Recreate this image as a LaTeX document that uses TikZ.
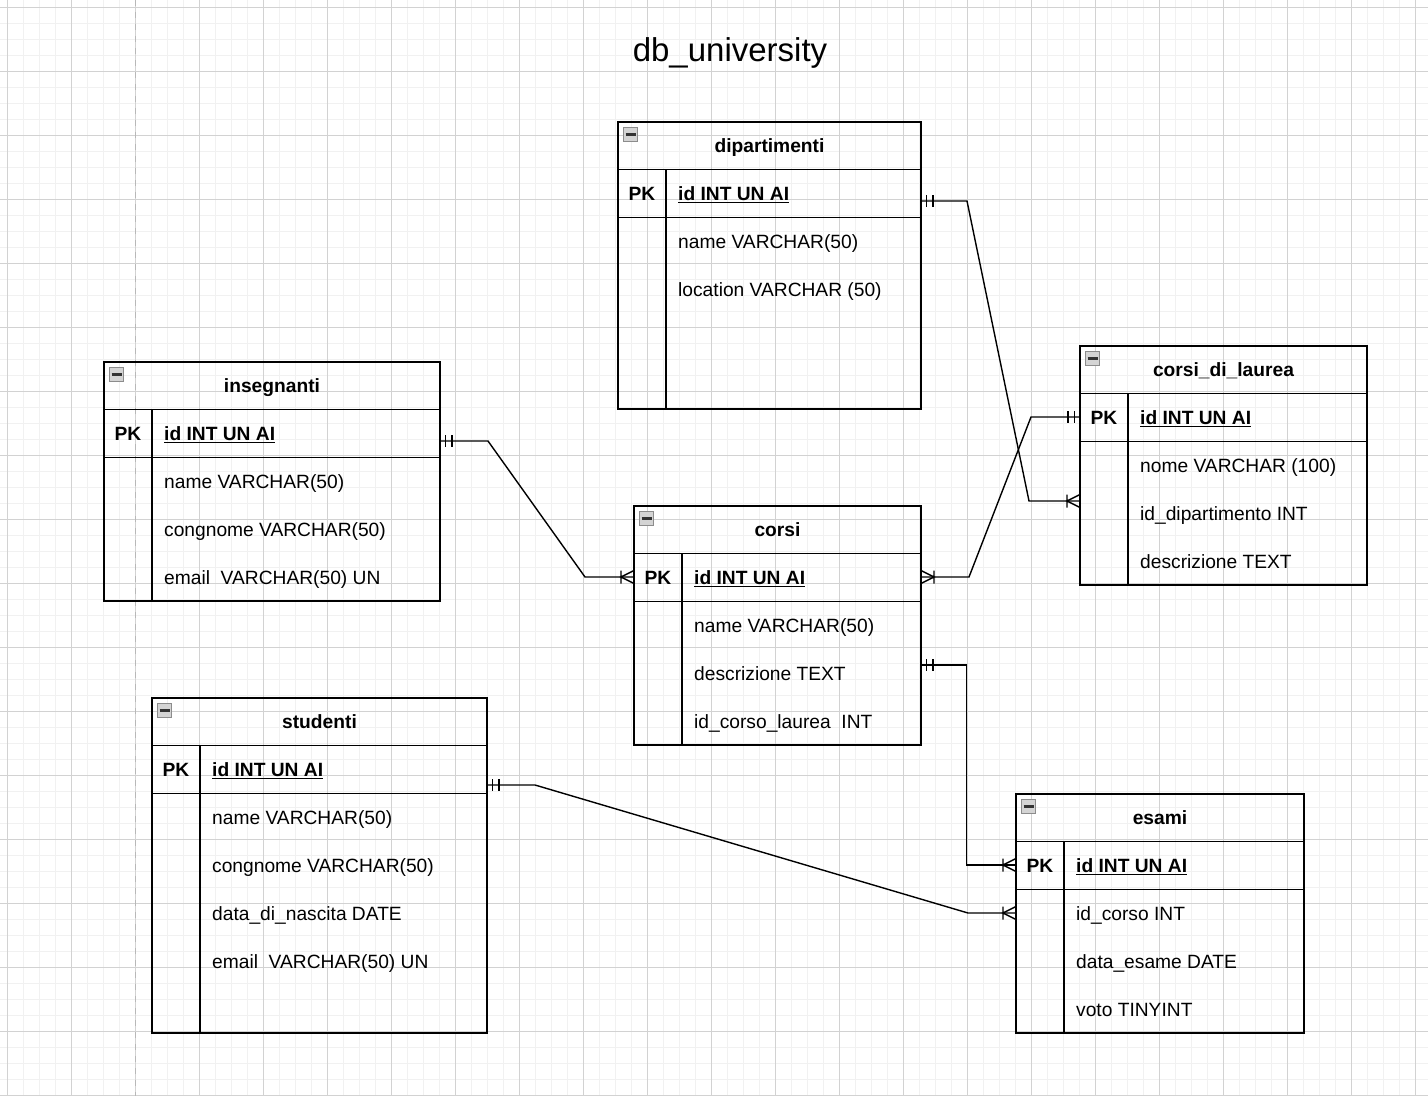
\documentclass[tikz,border=0pt]{standalone}
\usepackage{fontspec}
\setmainfont{Liberation Sans}
\usetikzlibrary{calc}
\definecolor{gridminor}{HTML}{F1F1F1}
\definecolor{gridmajor}{HTML}{D2D2D2}
\definecolor{dashgrey}{HTML}{B8B8B8}
\definecolor{iconfill}{HTML}{D4D4D4}
\definecolor{iconedge}{HTML}{8C8C8C}
\tikzset{
  tbl/.style={draw=black, line width=1.6pt, fill=none, inner sep=0pt, outer sep=0pt},
  tline/.style={draw=black, line width=1.5pt},
  rel/.style={draw=black, line width=1.4pt, line join=miter},
  txt/.style={font=\fontsize{19.2}{23}\selectfont, inner sep=0pt},
  hdr/.style={txt, font=\fontsize{19.2}{23}\selectfont\bfseries, anchor=base},
  pkl/.style={txt, font=\fontsize{19.2}{23}\selectfont\bfseries, anchor=base},
  fld/.style={txt, anchor=base west},
  iconbox/.style={draw=iconedge, fill=iconfill, line width=1pt, minimum size=13.5pt, inner sep=0pt},
}
% #1 name, #2 L, #3 T, #4 R, #5 B, #6 divider x, #7 title
\newcommand\ertable[7]{%
  \node[tbl, minimum width={#4-#2}, minimum height={#5-#3}, anchor=north west] (#1) at (#2,#3) {};
  \draw[tline] (#2,#3+47.5) -- (#4,#3+47.5);
  \draw[tline] (#2,#3+95.5) -- (#4,#3+95.5);
  \draw[tline] (#6,#3+47.5) -- (#6,#5);
  \node[iconbox] (#1icon) at (#2+12.5,#3+12.5) {};
  \draw[line width=2.4pt, black!80] ($(#1icon.center)+(-5,0)$) -- ($(#1icon.center)+(5,0)$);
  \node[hdr] (#1title) at ({(#2+#4)/2},#3+30.5) {#7};
  \node[pkl] (#1pk) at ({(#2+#6)/2},#3+78.5) {PK};
  \node[fld, font=\fontsize{19.2}{23}\selectfont\bfseries] (#1id) at (#6+12,#3+78.5) {\underline{id INT UN AI}};
}
% #1 name, #2 x, #3 y(row centre), #4 text
\newcommand\erfield[4]{\node[fld] (#1) at (#2,#3+7) {#4};}
% mandatory one: #1 coordinate, #2 direction (+1 right, -1 left)
\newcommand\mone[2]{\draw[rel] ($(#1)+(#2*5.5,-6)$) -- ++(0,12) ($(#1)+(#2*12,-6)$) -- ++(0,12);}
% one-to-many foot: #1 coordinate at entity, #2 direction toward the line
\newcommand\mmany[2]{\draw[rel] ($(#1)+(0,-6.5)$) -- ($(#1)+(#2*13,0)$) -- ($(#1)+(0,6.5)$) ($(#1)+(#2*13,-6.5)$) -- ++(0,13);}

\begin{document}
\begin{tikzpicture}[x=1pt,y=-1pt]
\useasboundingbox (0,0) rectangle (1428,1096);
\fill[white] (0,0) rectangle (1428,1096);
% grid
\foreach \i in {0,...,89} {\draw[gridminor, line width=1.6pt] ({7.3+16*\i},0) -- ({7.3+16*\i},1096);}
\foreach \i in {0,...,68} {\draw[gridminor, line width=1.6pt] (0,{7.3+16*\i}) -- (1428,{7.3+16*\i});}
\foreach \i in {0,...,22} {\draw[gridmajor, line width=1pt] ({7.3+64*\i},0) -- ({7.3+64*\i},1096);}
\foreach \i in {0,...,17} {\draw[gridmajor, line width=1pt] (0,{7.3+64*\i}) -- (1428,{7.3+64*\i});}
\draw[dashgrey, line width=1.8pt, dash pattern=on 6pt off 6pt] (135.5,0) -- (135.5,1096);

% title
\node[txt, font=\fontsize{33}{38}\selectfont, anchor=base] (maintitle) at (730,61.5) {db\_university};

% tables
\ertable{dip}{618}{122}{921}{409}{666}{dipartimenti}
\erfield{dipf1}{678}{241}{name VARCHAR(50)}
\erfield{dipf2}{678}{289}{location VARCHAR (50)}

\ertable{ins}{104}{362}{440}{601}{152}{insegnanti}
\erfield{insf1}{164}{481}{name VARCHAR(50)}
\erfield{insf2}{164}{529}{congnome VARCHAR(50)}
\erfield{insf3}{164}{577}{email\ \ VARCHAR(50) UN}

\ertable{cor}{634}{506}{921}{745}{682}{corsi}
\erfield{corf1}{694}{625}{name VARCHAR(50)}
\erfield{corf2}{694}{673}{descrizione TEXT}
\erfield{corf3}{694}{721}{id\_corso\_laurea\ \ INT}

\ertable{cdl}{1080}{346}{1367}{585}{1128}{corsi\_di\_laurea}
\erfield{cdlf1}{1140}{465}{nome VARCHAR (100)}
\erfield{cdlf2}{1140}{513}{id\_dipartimento INT}
\erfield{cdlf3}{1140}{561}{descrizione TEXT}

\ertable{stu}{152}{698}{487}{1033}{200}{studenti}
\erfield{stuf1}{212}{817}{name VARCHAR(50)}
\erfield{stuf2}{212}{865}{congnome VARCHAR(50)}
\erfield{stuf3}{212}{913}{data\_di\_nascita DATE}
\erfield{stuf4}{212}{961}{email\ \ VARCHAR(50) UN}

\ertable{esa}{1016}{794}{1304}{1033}{1064}{esami}
\erfield{esaf1}{1076}{913}{id\_corso INT}
\erfield{esaf2}{1076}{961}{data\_esame DATE}
\erfield{esaf3}{1076}{1009}{voto TINYINT}

% connector end points on the tables
\coordinate (c1s) at (dip.east |- 0,201);
\coordinate (c1e) at (cdl.west |- 0,501);
\coordinate (c2s) at (cdl.west |- 0,417);
\coordinate (c2e) at (cor.east |- 0,577);
\coordinate (c3s) at (ins.east |- 0,441);
\coordinate (c3e) at (cor.west |- 0,577);
\coordinate (c4s) at (cor.east |- 0,665);
\coordinate (c4e) at (esa.west |- 0,865);
\coordinate (c5s) at (stu.east |- 0,785);
\coordinate (c5e) at (esa.west |- 0,913);

% connectors
\draw[rel] (c1s) -- (967,201) -- (1029,501) -- (c1e);
\mone{c1s}{1} \mmany{c1e}{-1}
\draw[rel] (c2s) -- (1031,417) -- (969,577) -- (c2e);
\mone{c2s}{-1} \mmany{c2e}{1}
\draw[rel] (c3s) -- (488,441) -- (585,577) -- (c3e);
\mone{c3s}{1} \mmany{c3e}{-1}
\draw[rel] (c4s) -- (966.5,665) -- (966.5,865) -- (c4e);
\mone{c4s}{1} \mmany{c4e}{-1}
\draw[rel] (c5s) -- (535,785) -- (968,913) -- (c5e);
\mone{c5s}{1} \mmany{c5e}{-1}
\end{tikzpicture}
\end{document}
